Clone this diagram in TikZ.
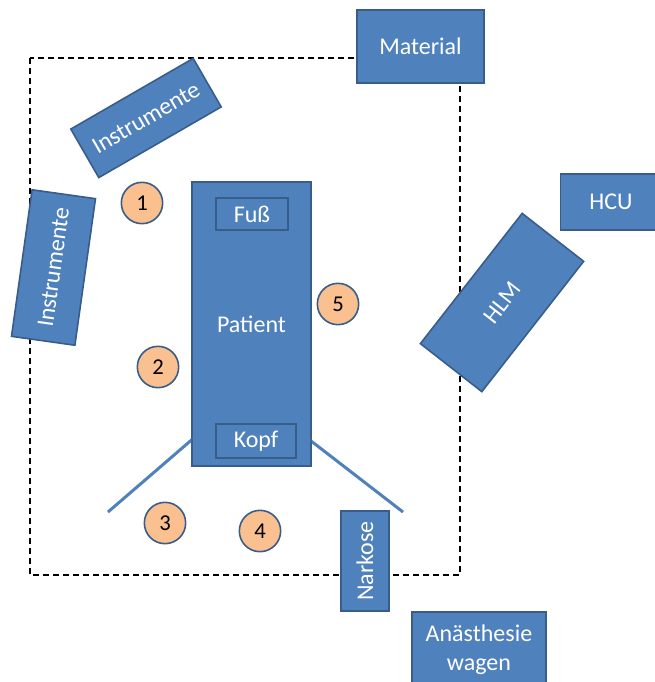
\documentclass[tikz,border=0pt]{standalone}
\usepackage{fontspec}
\setmainfont{Carlito}
\usetikzlibrary{positioning}
\definecolor{boxblue}{HTML}{4F81BD}
\definecolor{boxline}{HTML}{385D8A}
\definecolor{spotfill}{HTML}{FAC090}
\tikzset{
    unit/.style={draw=boxline,fill=boxblue,line width=1.2pt,text=white,inner sep=0pt,align=center,font=\fontsize{18}{22}\selectfont},
    spot/.style={circle,draw=boxline,fill=spotfill,line width=1.2pt,minimum size=31pt,inner sep=0pt,font=\fontsize{17}{19}\selectfont},
    zone/.style={dash pattern=on 4.5pt off 3pt,line width=0.8pt},
    wedge/.style={draw=boxblue,line width=2.2pt}
}

\begin{document}
\begin{tikzpicture}[x=0.75pt,y=-0.75pt]
\useasboundingbox (0,0) rectangle (655,682);
\draw[zone] (30,58) rectangle (460,575);

\coordinate (a) at (108,512);
\coordinate (b) at (217,418);
\coordinate (c) at (403,512);
\coordinate (d) at (280,417);
\draw[wedge] (a) -- (b);
\draw[wedge] (c) -- (d);

\node[unit, minimum width=89pt, minimum height=213pt] (1) at (251.5,324) {Patient};
% lines shine faintly through the bed
\draw[wedge, draw opacity=0.25] (a) -- (b);
\draw[wedge, draw opacity=0.25] (c) -- (d);
\node[unit, minimum width=54pt, minimum height=24pt] (2) at (252,214) {Fuß};
\node[unit, minimum width=60pt, minimum height=25.5pt] (3) at (256,441) {Kopf};

\node[unit, rotate=30, minimum width=106pt, minimum height=42pt] (4) at (146,118) {Instrumente};
\node[unit, rotate=82, minimum width=111pt, minimum height=48pt] (5) at (53.5,267.5) {Instrumente};
\node[unit, minimum width=95pt, minimum height=55pt] (6) at (420.5,46.5) {Material};
\node[unit, minimum width=76pt, minimum height=42pt] (7) at (611,202) {HCU};
\node[unit, rotate=52, minimum width=124pt, minimum height=58.5pt] (8) at (502,302.5) {HLM};
\node[unit, rotate=90, minimum width=75pt, minimum height=36pt] (9) at (365,561) {Narkose};
\node[unit, minimum width=100.5pt, minimum height=57pt] (10) at (479,650) {Anästhesie\\wagen};

\node[spot] (11) at (142,203) {1};
\node[spot] (12) at (158,367) {2};
\node[spot] (13) at (165,523) {3};
\node[spot] (14) at (260,531) {4};
\node[spot] (15) at (338,304) {5};

\end{tikzpicture}
\end{document}
